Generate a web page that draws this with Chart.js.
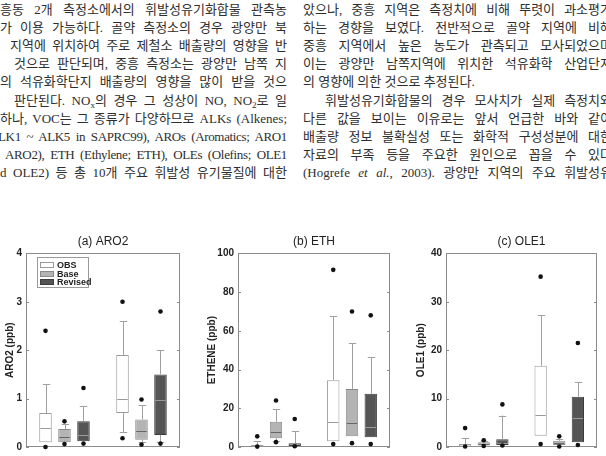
<!DOCTYPE html>
<html>
<head>
<meta charset="utf-8">
<script src="https://cdn.jsdelivr.net/npm/chart.js"></script>
<style>
    html, body { margin: 0; padding: 0; width: 606px; height: 456px; overflow: hidden; background: #fff; }
    .ln {
        position: absolute; height: 18px; line-height: 18px; overflow: hidden;
        font-family: "Liberation Serif", "Noto Sans CJK KR", serif; font-size: 13px; color: #2e2e2e;
        text-align: justify; text-align-last: justify;
    }
    .ln.left-al { text-align: left; text-align-last: left; }
    .ln.tight { letter-spacing: -0.35px; }
    .ln sub { font-size: 9px; line-height: 0; vertical-align: -3px; }
    canvas { position: absolute; }
</style>
</head>
<body>
<div id="text"></div>
<canvas id="chartA" width="182" height="247" style="left:0;top:230px"></canvas>
<canvas id="chartB" width="192" height="247" style="left:200px;top:230px"></canvas>
<canvas id="chartC" width="195" height="247" style="left:404px;top:230px"></canvas>
<script>
// body text of the page, one entry per printed line
const leftLines = [
    '흥동 2개 측정소에서의 휘발성유기화합물 관측농',
    '가 이용 가능하다. 골약 측정소의 경우 광양만 북',
    '지역에 위치하여 주로 제철소 배출량의 영향을 반',
    '것으로 판단되며, 중흥 측정소는 광양만 남쪽 지',
    '의 석유화학단지 배출량의 영향을 많이 받을 것으',
    '판단된다. NO<sub>x</sub>의 경우 그 성상이 NO, NO<sub>2</sub>로 일',
    '하나, VOC는 그 종류가 다양하므로 ALKs (Alkenes;',
    'LK1 ~ ALK5 in SAPRC99), AROs (Aromatics; ARO1',
    'ARO2), ETH (Ethylene; ETH), OLEs (Olefins; OLE1',
    'd OLE2) 등 총 10개 주요 휘발성 유기물질에 대한',
];
const leftIndent = [0, 0, 10, 14, 0, 14, 0, -2, 5, 0];
const leftTight = [7, 8];

const rightLines = [
    '았으나, 중흥 지역은 측정치에 비해 뚜렷이 과소평가',
    '하는 경향을 보였다. 전반적으로 골약 지역에 비해',
    '중흥 지역에서 높은 농도가 관측되고 모사되었으며',
    '이는 광양만 남쪽지역에 위치한 석유화학 산업단지',
    '의 영향에 의한 것으로 추정된다.',
    '휘발성유기화합물의 경우 모사치가 실제 측정치와',
    '다른 값을 보이는 이유로는 앞서 언급한 바와 같이',
    '배출량 정보 불확실성 또는 화학적 구성성분에 대한',
    '자료의 부족 등을 주요한 원인으로 꼽을 수 있다',
    '(Hogrefe <i>et al.</i>, 2003). 광양만 지역의 주요 휘발성유',
];
const rightIndent = [0, 0, 0, 0, 0, 22, 0, 0, 0, 0];

const categories = ['Golyak', 'Jungheung'];
const seriesNames = ['OBS', 'Base', 'Revised'];

// rows: OBS, Base, Revised; columns: Golyak, Jungheung
const aro2Min = [[0.0, 0.18], [0.06, 0.05], [0.07, 0.07]];
const aro2Low = [[0.1, 0.3], [0.08, 0.1], [0.1, 0.1]];
const aro2Q1 = [[0.1, 0.7], [0.1, 0.15], [0.12, 0.25]];
const aro2Median = [[0.4, 1.0], [0.2, 0.33], [0.25, 0.98]];
const aro2Q3 = [[0.7, 1.9], [0.37, 0.57], [0.53, 1.5]];
const aro2High = [[1.3, 2.6], [0.47, 0.86], [0.85, 2.0]];
const aro2Max = [[2.4, 3.0], [0.53, 0.98], [1.22, 2.8]];

const ethMin = [[0.2, 1.5], [2.5, 2.0], [0.4, 1.5]];
const ethLow = [[0.3, 3.0], [3.0, 5.5], [0.5, 5.0]];
const ethQ1 = [[0.3, 3.0], [4.5, 5.5], [0.5, 5.0]];
const ethMedian = [[0.6, 13.0], [8.0, 12.5], [1.3, 10.5]];
const ethQ3 = [[1.0, 34.5], [13.0, 30.0], [2.0, 27.5]];
const ethHigh = [[3.0, 67.5], [19.5, 53.5], [8.2, 46.5]];
const ethMax = [[5.5, 91.5], [24.0, 70.0], [14.5, 68.0]];

const ole1Min = [[0.1, 0.6], [0.2, 0.1], [0.3, 0.4]];
const ole1Low = [[0.1, 2.3], [0.3, 0.4], [0.4, 1.0]];
const ole1Q1 = [[0.1, 2.3], [0.3, 0.4], [0.4, 1.0]];
const ole1Median = [[0.3, 6.6], [0.6, 0.8], [0.9, 6.0]];
const ole1Q3 = [[0.6, 16.8], [1.0, 1.3], [1.6, 10.4]];
const ole1High = [[1.8, 27.2], [1.3, 1.6], [6.5, 13.4]];
const ole1Max = [[3.9, 35.2], [1.4, 2.2], [8.8, 21.5]];

const seriesFills = ['#ffffff', '#b4b4b4', '#555555'];
const seriesBorders = ['#9a9a9a', '#8a8a8a', '#3c3c3c'];
const medianColors = ['#9a9a9a', '#666666', '#9a9a9a'];
const whiskerColor = '#a0a0a0';

function writeText() {
    const holder = document.getElementById('text');
    let html = '';
    leftLines.forEach((line, i) => {
        const x = leftIndent[i];
        const cls = leftTight.includes(i) ? 'ln tight' : 'ln';
        html += `<div class="${cls}" style="left:${x}px;top:${1 + i * 18.1}px;width:${287 - x}px">${line}</div>`;
    });
    rightLines.forEach((line, i) => {
        const x = 303 + rightIndent[i];
        const cls = i === 4 ? 'ln left-al' : 'ln';
        html += `<div class="${cls}" style="left:${x}px;top:${1 + i * 18.1}px;width:${309 - rightIndent[i]}px">${line}</div>`;
    });
    holder.innerHTML = html;
}

Chart.defaults.font.family = '"Liberation Sans", Arial, sans-serif';

function makeChart(id, opts) {
    const { title, yTitle, yMax, yStep, yWidth, titlePad, min, low, q1, med, q3, high, max, legend } = opts;

    const datasets = seriesNames.map((name, s) => ({
        label: name,
        data: categories.map((c, i) => [q1[s][i], q3[s][i]]),
        backgroundColor: seriesFills[s],
        borderColor: seriesBorders[s],
        borderWidth: 1,
        borderSkipped: false,
        barPercentage: 0.66,
        categoryPercentage: 0.74,
    }));

    // whiskers, medians, outlier dots, frame and the small legend
    const boxPlugin = {
        id: 'boxExtras',
        afterDatasetsDraw(chart) {
            const ctx = chart.ctx;
            const y = chart.scales.y;
            const area = chart.chartArea;
            ctx.save();

            ctx.strokeStyle = '#8c8c8c';
            ctx.lineWidth = 1;
            ctx.strokeRect(Math.round(area.left) + 0.5, Math.round(area.top) + 0.5,
                Math.round(area.width) - 1, Math.round(area.height) - 1);

            y.ticks.forEach((t) => {
                const py = Math.round(y.getPixelForValue(t.value)) + 0.5;
                ctx.beginPath();
                ctx.moveTo(area.left, py);
                ctx.lineTo(area.left + 3, py);
                ctx.moveTo(area.right - 3, py);
                ctx.lineTo(area.right, py);
                ctx.stroke();
            });

            seriesNames.forEach((name, s) => {
                const meta = chart.getDatasetMeta(s);
                meta.data.forEach((bar, i) => {
                    const x = Math.round(bar.x) + 0.5;
                    const half = bar.width / 2;
                    const cap = half * 0.6;
                    const yHigh = y.getPixelForValue(high[s][i]);
                    const yQ3 = y.getPixelForValue(q3[s][i]);
                    const yLow = y.getPixelForValue(low[s][i]);
                    const yQ1 = y.getPixelForValue(q1[s][i]);

                    ctx.strokeStyle = whiskerColor;
                    ctx.beginPath();
                    ctx.moveTo(x, yQ3);
                    ctx.lineTo(x, yHigh);
                    ctx.moveTo(x - cap, Math.round(yHigh) + 0.5);
                    ctx.lineTo(x + cap, Math.round(yHigh) + 0.5);
                    if (yLow - yQ1 > 1) {
                        ctx.moveTo(x, yQ1);
                        ctx.lineTo(x, yLow);
                        ctx.moveTo(x - cap, Math.round(yLow) + 0.5);
                        ctx.lineTo(x + cap, Math.round(yLow) + 0.5);
                    }
                    ctx.stroke();

                    const yMed = Math.round(y.getPixelForValue(med[s][i])) + 0.5;
                    ctx.strokeStyle = medianColors[s];
                    ctx.beginPath();
                    ctx.moveTo(bar.x - half + 1, yMed);
                    ctx.lineTo(bar.x + half - 1, yMed);
                    ctx.stroke();

                    ctx.fillStyle = '#111';
                    [max[s][i], min[s][i]].forEach((v) => {
                        ctx.beginPath();
                        ctx.arc(bar.x, y.getPixelForValue(v), 2.3, 0, Math.PI * 2);
                        ctx.fill();
                    });
                });
            });

            if (legend) {
                const lx = area.left + 11;
                const ly = area.top + 4;
                ctx.strokeStyle = '#9a9a9a';
                ctx.strokeRect(Math.round(lx) + 0.5, Math.round(ly) + 0.5, 51, 30);
                ctx.font = 'bold 9px "Liberation Sans", Arial, sans-serif';
                ctx.textBaseline = 'middle';
                seriesNames.forEach((name, s) => {
                    const ry = Math.round(ly + 5 + s * 8.5);
                    ctx.fillStyle = seriesFills[s];
                    ctx.fillRect(lx + 3, ry, 14, 6);
                    ctx.strokeStyle = seriesBorders[s];
                    ctx.strokeRect(lx + 3.5, ry + 0.5, 13, 5);
                    ctx.fillStyle = '#222';
                    ctx.fillText(name, lx + 20, ry + 3.5);
                });
            }
            ctx.restore();
        },
    };

    return new Chart(document.getElementById(id), {
        type: 'bar',
        data: { labels: categories, datasets },
        options: {
            responsive: false,
            animation: false,
            layout: { padding: { top: 4, right: 2, left: 0, bottom: 0 } },
            plugins: {
                legend: { display: false },
                tooltip: { enabled: false },
                title: {
                    display: true,
                    text: title,
                    fullSize: false,
                    color: '#222',
                    font: { size: 12, weight: 'normal' },
                    padding: { top: 0, bottom: 5 },
                },
            },
            scales: {
                x: {
                    grid: { display: false, drawTicks: false },
                    border: { display: false },
                    ticks: { color: '#222', font: { size: 11, weight: 'bold' }, padding: 7 },
                    afterFit: (scale) => { scale.height = 30; },
                },
                y: {
                    min: 0,
                    max: yMax,
                    grid: { display: false, drawTicks: false },
                    border: { display: false },
                    ticks: { stepSize: yStep, color: '#222', font: { size: 10, weight: 'bold' }, padding: 4 },
                    title: {
                        display: true,
                        text: yTitle,
                        color: '#222',
                        font: { size: 10, weight: 'bold' },
                        padding: { top: titlePad, bottom: 0 },
                    },
                    afterFit: (scale) => { scale.width = yWidth; },
                },
            },
        },
        plugins: [boxPlugin],
    });
}

writeText();

makeChart('chartA', {
    title: '(a) ARO2', yTitle: 'ARO2 (ppb)', yMax: 4, yStep: 1, yWidth: 26, titlePad: 4,
    min: aro2Min, low: aro2Low, q1: aro2Q1, med: aro2Median, q3: aro2Q3, high: aro2High, max: aro2Max,
    legend: true,
});
makeChart('chartB', {
    title: '(b) ETH', yTitle: 'ETHENE (ppb)', yMax: 100, yStep: 20, yWidth: 38, titlePad: 6,
    min: ethMin, low: ethLow, q1: ethQ1, med: ethMedian, q3: ethQ3, high: ethHigh, max: ethMax,
});
makeChart('chartC', {
    title: '(c) OLE1', yTitle: 'OLE1 (ppb)', yMax: 40, yStep: 10, yWidth: 42, titlePad: 11,
    min: ole1Min, low: ole1Low, q1: ole1Q1, med: ole1Median, q3: ole1Q3, high: ole1High, max: ole1Max,
});
</script>
</body>
</html>
